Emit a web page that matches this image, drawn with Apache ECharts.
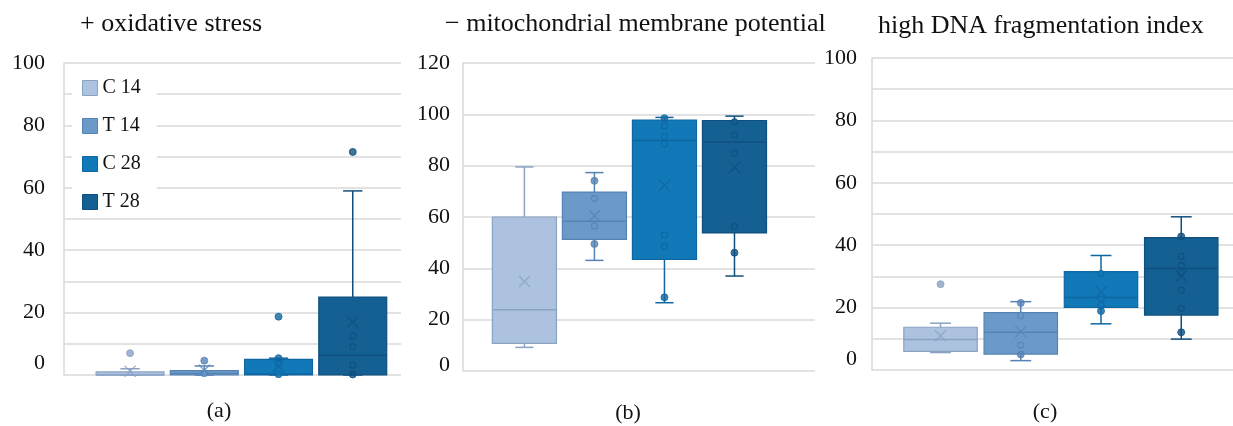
<!DOCTYPE html>
<html><head><meta charset="utf-8">
<script src="https://cdn.jsdelivr.net/npm/echarts@6/dist/echarts.min.js"></script>
<style>html,body{margin:0;padding:0;background:#fff}#c{width:1233px;height:426px}</style>
</head><body><div id="c"></div>
<script>
// ---------------- DATA ----------------
const groups = ['C 14', 'T 14', 'C 28', 'T 28'];
const panelTitles = ['+ oxidative stress', '\u2212 mitochondrial membrane potential', 'high DNA fragmentation index'];
const panelLetters = ['(a)', '(b)', '(c)'];

// (a) + oxidative stress : [min, Q1, median, Q3, max]
const oxBox = [[0, 0, 0, 1, 2], [0, 0, 0.5, 1.4, 2.9], [0, 0, 0.3, 5, 5.4], [0, 0, 6.3, 25, 59]];
const oxMean = [1.2, 1.5, 2.8, 17];
const oxHollow = [[], [0.5], [3.5, 0.2], [12.5, 9.1, 3.2]];
const oxFilled = [[], [], [5.4], [0.2]];
const oxOutliers = [[7], [4.6], [18.7], [71.5]];
const oxTicks = [0, 20, 40, 60, 80, 100];

// (b) - mitochondrial membrane potential
const mmpBox = [[9.2, 10.8, 23.9, 60, 79.5], [43.1, 51.3, 58.3, 69.7, 77.3], [26.6, 43.5, 89.8, 97.8, 98.8], [37, 53.8, 89.2, 97.6, 99.3]];
const mmpMean = [34.9, 60.5, 72.3, 79.3];
const mmpHollow = [[], [67.2, 56.5], [95.6, 91.4, 88.4, 53, 48.5], [97.1, 91.9, 84.9, 56.3]];
const mmpFilled = [[], [74.1, 49.5], [98.5, 28.7], [46.1]];
const mmpOutliers = [[], [], [], []];
const mmpTicks = [0, 20, 40, 60, 80, 100, 120];

// (c) high DNA fragmentation index
const dfiBox = [[5.6, 6.0, 9.8, 13.7, 15.0], [3.0, 5.1, 12.1, 18.4, 21.9], [14.8, 20.1, 23.2, 31.5, 36.7], [9.9, 17.6, 32.5, 42.4, 49.1]];
const dfiMean = [11.0, 12.3, 25.1, 30.2];
const dfiHollow = [[], [17.5, 8.0], [30.9, 22.8, 20.7], [36.4, 33.5, 31.2, 25.6, 19.7]];
const dfiFilled = [[], [21.5, 5.0], [18.9], [42.8, 12.1]];
const dfiOutliers = [[27.5], [], [], []];
const dfiTicks = [0, 20, 40, 60, 80, 100];

// ---------------- STYLE / LAYOUT ----------------
const fills = ['#adc2de', '#6c9ac8', '#1279b8', '#146092'];
const edges = ['#8aa2c4', '#5683b5', '#0f67a2', '#0f4f7f'];
const FONT = 'Liberation Serif';
const GRIDC = '#d9d9d9';
const BOX_W = 0.915, CAP_W = 0.26;

const panels = [
  { box: oxBox, mean: oxMean, hollow: oxHollow, filled: oxFilled, outliers: oxOutliers, ticks: oxTicks,
    grid: { left: 64, top: 63, width: 337, height: 312 }, xMin: -0.89, xMax: 3.65, interval: 10, margin: 19,
    zeroLift: 24, title: { left: 80, top: 11 }, letter: [219, 411] },
  { box: mmpBox, mean: mmpMean, hollow: mmpHollow, filled: mmpFilled, outliers: mmpOutliers, ticks: mmpTicks,
    grid: { left: 463, top: 63, width: 352, height: 308 }, xMin: -0.877, xMax: 4.15, interval: 20, margin: 13,
    zeroLift: 12, title: { left: 445, top: 11 }, letter: [628, 413] },
  { box: dfiBox, mean: dfiMean, hollow: dfiHollow, filled: dfiFilled, outliers: dfiOutliers, ticks: dfiTicks,
    grid: { left: 872, top: 58, width: 361, height: 312 }, xMin: -0.854, xMax: 3.645, interval: 10, margin: 15,
    zeroLift: 22, title: { left: 878, top: 13 }, letter: [1045, 412] }
];

function makeRender(g) {
  return function (params, api) {
    const x = api.value(0);
    const pMin = api.coord([x, api.value(1)]);
    const pQ1 = api.coord([x, api.value(2)]);
    const pMed = api.coord([x, api.value(3)]);
    const pQ3 = api.coord([x, api.value(4)]);
    const pMax = api.coord([x, api.value(5)]);
    const bw = api.size([BOX_W, 0])[0];
    const cw = api.size([CAP_W, 0])[0];
    const cx = pQ1[0];
    const ls = { stroke: edges[g], lineWidth: 1.5, fill: null };
    return {
      type: 'group',
      children: [
        { type: 'line', shape: { x1: cx, y1: pQ3[1], x2: cx, y2: pMax[1] }, style: ls },
        { type: 'line', shape: { x1: cx, y1: pQ1[1], x2: cx, y2: pMin[1] }, style: ls },
        { type: 'line', shape: { x1: cx - cw / 2, y1: pMax[1], x2: cx + cw / 2, y2: pMax[1] }, style: ls },
        { type: 'line', shape: { x1: cx - cw / 2, y1: pMin[1], x2: cx + cw / 2, y2: pMin[1] }, style: ls },
        { type: 'rect', shape: { x: cx - bw / 2, y: pQ3[1], width: bw, height: Math.max(pQ1[1] - pQ3[1], 1) },
          style: { fill: fills[g], stroke: edges[g], lineWidth: 1.2 } },
        { type: 'line', shape: { x1: cx - bw / 2, y1: pMed[1], x2: cx + bw / 2, y2: pMed[1] }, style: { stroke: edges[g], lineWidth: 1.5 } }
      ]
    };
  };
}

const grids = [], xAxes = [], yAxes = [], series = [], titles = [], graphics = [];
panels.forEach((p, i) => {
  grids.push(Object.assign({ containLabel: false }, p.grid));
  xAxes.push({ type: 'value', gridIndex: i, min: p.xMin, max: p.xMax, show: false, splitLine: { show: false } });
  const tmax = p.ticks[p.ticks.length - 1];
  const tset = new Set(p.ticks);
  yAxes.push({
    type: 'value', gridIndex: i, min: 0, max: tmax, interval: p.interval,
    axisLine: { show: true, onZero: false, lineStyle: { color: GRIDC, width: 1.5 } },
    axisTick: { show: false },
    splitLine: { show: true, lineStyle: { color: GRIDC, width: 1.5 } },
    axisLabel: { margin: p.margin, color: '#111', fontFamily: FONT, fontSize: 22,
      formatter: v => (v === 0 ? '{z|0}' : (tset.has(v) ? String(v) : '')),
      rich: { z: { fontFamily: FONT, fontSize: 22, color: '#111', padding: [0, 0, p.zeroLift, 0] } } }
  });
  titles.push({ text: panelTitles[i], left: p.title.left, top: p.title.top, padding: 0,
    textStyle: { fontFamily: FONT, fontSize: 26, fontWeight: 'normal', color: '#111' } });
  graphics.push({ type: 'text', x: p.letter[0], y: p.letter[1],
    style: { text: panelLetters[i], fontFamily: FONT, fontSize: 22, fill: '#111', textAlign: 'center', textVerticalAlign: 'middle' } });
  groups.forEach((name, g) => {
    series.push({
      type: 'custom', name: name, xAxisIndex: i, yAxisIndex: i, z: 2,
      itemStyle: { color: fills[g] },
      data: [[g].concat(p.box[g])],
      encode: { x: 0, y: [1, 2, 3, 4, 5] },
      renderItem: makeRender(g)
    });
    series.push({
      type: 'scatter', xAxisIndex: i, yAxisIndex: i, z: 3, symbol: 'circle', symbolSize: 6,
      itemStyle: { color: fills[g], borderColor: edges[g], borderWidth: 1.3 },
      data: p.hollow[g].map(v => [g, v])
    });
    series.push({
      type: 'scatter', xAxisIndex: i, yAxisIndex: i, z: 3, symbol: 'circle', symbolSize: 7,
      itemStyle: { color: edges[g], borderColor: edges[g], borderWidth: 1 },
      data: p.filled[g].map(v => [g, v]).concat(p.outliers[g].map(v => [g, v]))
    });
    series.push({
      type: 'scatter', xAxisIndex: i, yAxisIndex: i, z: 4, symbol: 'path://M0,0L10,10M10,0L0,10', symbolSize: 11,
      itemStyle: { color: 'none', borderColor: edges[g], borderWidth: 1.3 },
      data: [[g, p.mean[g]]]
    });
  });
});

const chart = echarts.init(document.getElementById('c'), null, { renderer: 'canvas' });
chart.setOption({
  animation: false,
  backgroundColor: '#fff',
  title: titles,
  grid: grids,
  xAxis: xAxes,
  yAxis: yAxes,
  legend: {
    data: groups.map((n, g) => ({ name: n, itemStyle: { color: fills[g], borderColor: edges[g], borderWidth: 1 } })),
    orient: 'vertical', left: 72, top: 70, padding: [7, 16, 3, 10],
    backgroundColor: '#fff', icon: 'rect', itemWidth: 15, itemHeight: 15, itemGap: 16,
    selectedMode: false,
    textStyle: { fontFamily: FONT, fontSize: 20, lineHeight: 22, color: '#111' }
  },
  graphic: graphics,
  series: series
});
</script></body></html>
